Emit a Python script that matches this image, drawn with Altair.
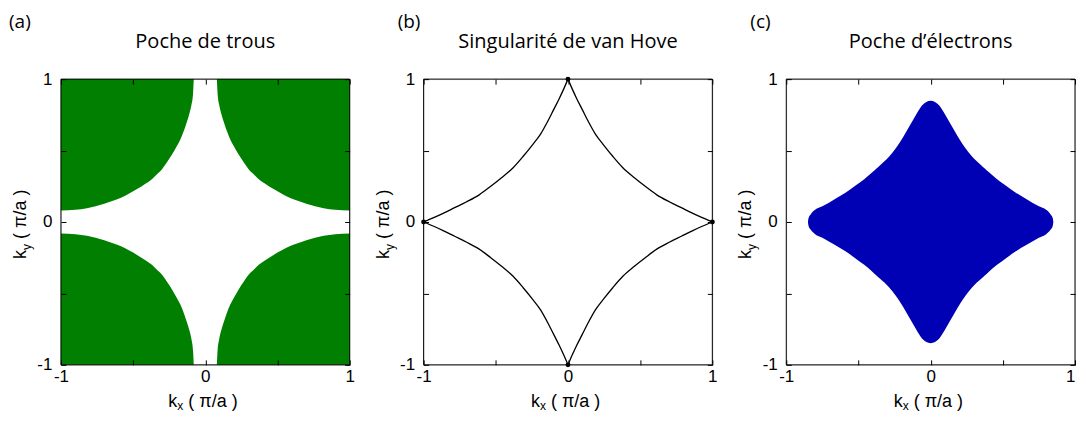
import altair as alt
import pandas as pd

# ---------------- data (units of pi/a) ----------------
# (a) hole-pocket boundary, one quadrant: |kx| and |ky|
hole_abs_kx = [0.08, 0.085, 0.096, 0.11, 0.128, 0.148, 0.172, 0.198, 0.232, 0.268, 0.30, 0.335,
               0.37, 0.415, 0.47, 0.53, 0.58, 0.64, 0.70, 0.76, 0.82, 0.9, 1.0]
hole_abs_ky = [1.0, 0.9, 0.82, 0.76, 0.70, 0.64, 0.58, 0.53, 0.47, 0.415, 0.37, 0.335,
               0.30, 0.268, 0.232, 0.198, 0.172, 0.148, 0.128, 0.11, 0.096, 0.085, 0.08]

# (b) van Hove contour, one quadrant from (0,1) to (1,0)
vhs_kx = [0.0, 0.03, 0.06, 0.10, 0.14, 0.19, 0.25, 0.31, 0.38, 0.46, 0.535, 0.615, 0.705, 0.785, 0.865, 0.93, 1.0]
vhs_ky = [1.0, 0.93, 0.865, 0.785, 0.705, 0.615, 0.535, 0.46, 0.38, 0.31, 0.25, 0.19, 0.14, 0.10, 0.06, 0.03, 0.0]
vhs_pts_kx = [1, 0, -1, 0]
vhs_pts_ky = [0, 1, 0, -1]

# (c) electron-pocket boundary, upper-right quadrant
elec_kx = [0.0, 0.03, 0.06, 0.10, 0.15, 0.19, 0.24, 0.29, 0.35, 0.375, 0.40, 0.46, 0.52,
           0.59, 0.665, 0.75, 0.80, 0.83, 0.845, 0.85]
elec_ky = [0.848, 0.840, 0.815, 0.752, 0.665, 0.595, 0.518, 0.455, 0.398, 0.375, 0.352,
           0.300, 0.255, 0.205, 0.160, 0.11, 0.085, 0.055, 0.030, 0.0]

tick_vals = [-1, -0.5, 0, 0.5, 1]
panel_letters = ["(a)", "(b)", "(c)"]
panel_titles = ["Poche de trous", "Singularité de van Hove", "Poche d\u2019électrons"]
letter_dx = [-52, -26, -36]

GREEN = "#007f00"
BLUE = "#0000b4"
W = 289
H = 286
TICK_FONT = "Liberation Sans"
TITLE_FONT = "Open Sans"

# ---------------- tables ----------------
hole_rows = []
for sx, sy, name in [(-1, 1, "tl"), (1, 1, "tr"), (-1, -1, "bl"), (1, -1, "br")]:
    for a, b in zip(hole_abs_kx, hole_abs_ky):
        hole_rows.append({"kx": sx * a, "ky": sy * b, "edge": sy * 1.0, "corner": name})
hole_df = pd.DataFrame(hole_rows)

vhs_rows = []
for sx, sy, name in [(1, 1, "q1"), (-1, 1, "q2"), (-1, -1, "q3"), (1, -1, "q4")]:
    for a, b in zip(vhs_kx, vhs_ky):
        vhs_rows.append({"kx": sx * a, "ky": sy * b, "quad": name})
vhs_df = pd.DataFrame(vhs_rows)
vhs_pts_df = pd.DataFrame({"kx": vhs_pts_kx, "ky": vhs_pts_ky})

ex = [-v for v in reversed(elec_kx[1:])] + elec_kx
ey = list(reversed(elec_ky[1:])) + elec_ky
elec_df = pd.DataFrame({"kx": ex, "ky": ey, "ky2": [-v for v in ey]})

# ---------------- helpers ----------------
lab_expr = "datum.value == 0 ? '0' : datum.value == 1 ? '1' : datum.value == -1 ? '-1' : ''"
scale = alt.Scale(domain=[-1, 1], nice=False, zero=False)


def main_x(last=False):
    align = "center"
    if last:
        align = {"condition": {"test": "datum.value == 1", "value": "right"}, "value": "center"}
    return alt.X("kx:Q", scale=scale, axis=alt.Axis(
        orient="bottom", values=tick_vals, labelExpr=lab_expr, offset=-5, tickSize=5,
        ticks=True, tickColor="black", tickWidth=1, domain=False, grid=False, title=None,
        labelFont=TICK_FONT, labelFontSize=17, labelColor="black", labelPadding=4,
        labelAlign=align, labelFlush=False, labelOverlap=False, zindex=2))


def main_y():
    return alt.Y("ky:Q", scale=scale, axis=alt.Axis(
        orient="left", values=tick_vals, labelExpr=lab_expr, offset=-5, tickSize=5,
        ticks=True, tickColor="black", tickWidth=1, domain=False, grid=False, title=None,
        labelFont=TICK_FONT, labelFontSize=17, labelColor="black", labelPadding=9,
        labelFlush=False, labelOverlap=False, zindex=2))


def mirror_layer(df):
    return alt.Chart(df).mark_point(opacity=0).encode(
        x=alt.X("kx:Q", scale=scale, axis=alt.Axis(
            orient="top", values=tick_vals, labels=False, offset=-5, tickSize=5,
            tickColor="black", domain=False, grid=False, title=None, zindex=2)),
        y=alt.Y("ky:Q", scale=scale, axis=alt.Axis(
            orient="right", values=tick_vals, labels=False, offset=-5, tickSize=5,
            tickColor="black", domain=False, grid=False, title=None, zindex=2)),
    )


def text(t, x, y, font, size, angle=None, align="left", baseline="alphabetic"):
    kw = dict(text=t, font=font, fontSize=size, color="black", align=align, baseline=baseline)
    if angle is not None:
        kw["angle"] = angle
    return alt.Chart(alt.Data(values=[{}])).mark_text(**kw).encode(
        x=alt.value(x), y=alt.value(y))


def decorations(i):
    frame = alt.Chart(alt.Data(values=[{}])).mark_rect(
        fillOpacity=0, stroke="black", strokeWidth=1).encode(
        x=alt.value(0), x2=alt.value(W), y=alt.value(0), y2=alt.value(H))
    c = W / 2
    m = H / 2
    return [
        frame,
        text(panel_letters[i], letter_dx[i], -51, TITLE_FONT, 19),
        text(panel_titles[i], c, -31, TITLE_FONT, 20, align="center"),
        # x-axis title  k_x ( π/a )
        text("k", c - 37, H + 42, TICK_FONT, 18),
        text("x", c - 28, H + 45, TICK_FONT, 12),
        text("( \u03c0/a )", c - 17, H + 42, TICK_FONT, 18),
        # y-axis title  k_y ( π/a )
        text("k", -35, m + 37, TICK_FONT, 18, angle=270),
        text("y", -30, m + 28, TICK_FONT, 12, angle=270),
        text("( \u03c0/a )", -35, m + 17, TICK_FONT, 18, angle=270),
    ]


# ---------------- panels ----------------
area_a = alt.Chart(hole_df).mark_area(color=GREEN, opacity=1, interpolate="monotone").encode(
    x=main_x(), y=main_y(), y2="edge:Q", detail="corner:N")
panel_a = alt.layer(area_a, mirror_layer(hole_df), *decorations(0)).properties(width=W, height=H)

line_b = alt.Chart(vhs_df).mark_line(color="black", strokeWidth=1.3, interpolate="monotone").encode(
    x=main_x(), y=main_y(), detail="quad:N")
dots_b = alt.Chart(vhs_pts_df).mark_circle(color="black", size=24, opacity=1).encode(
    x=alt.X("kx:Q", scale=scale, axis=None), y=alt.Y("ky:Q", scale=scale, axis=None))
panel_b = alt.layer(line_b, dots_b, mirror_layer(vhs_pts_df), *decorations(1)).properties(width=W, height=H)

area_c = alt.Chart(elec_df).mark_area(color=BLUE, opacity=1, interpolate="monotone").encode(
    x=main_x(last=True), y=main_y(), y2="ky2:Q")
panel_c = alt.layer(area_c, mirror_layer(elec_df), *decorations(2)).properties(width=W, height=H)

chart = alt.hconcat(panel_a, panel_b, panel_c, spacing=74, bounds="flush").properties(
    padding={"left": 0, "top": 4, "right": 0, "bottom": 0}
).configure_view(stroke="transparent").configure(background="white")

chart.save("out.html", embed_options={"renderer": "svg", "actions": False})
